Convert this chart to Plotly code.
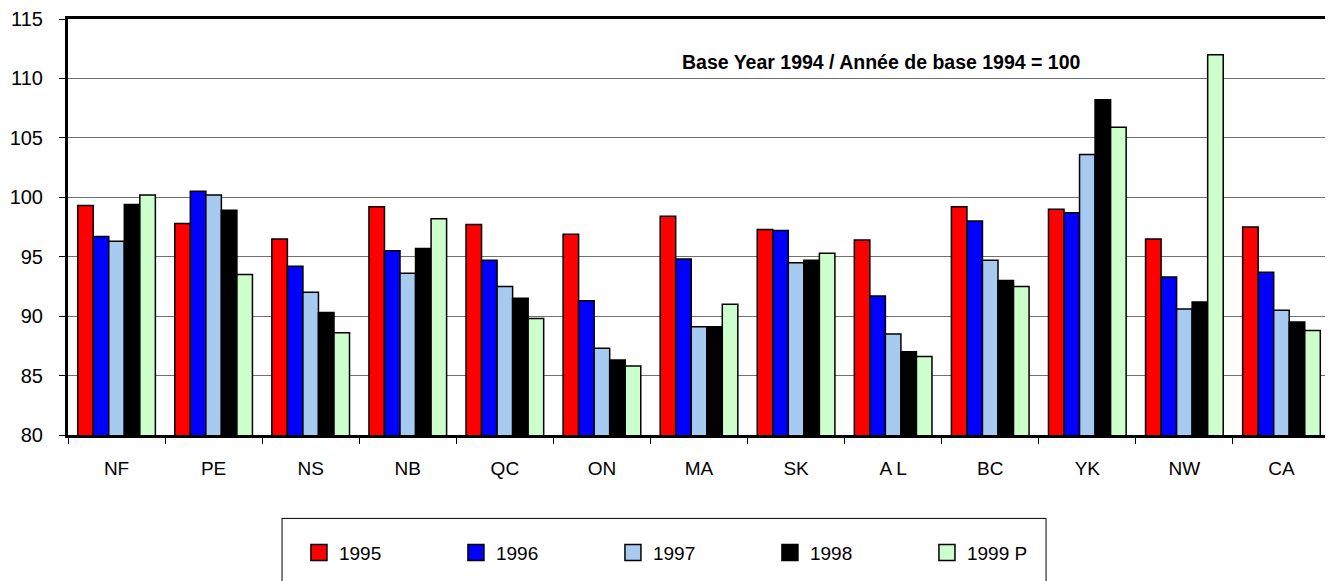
import plotly.graph_objects as go

regions = ['NF', 'PE', 'NS', 'NB', 'QC', 'ON', 'MA', 'SK', 'A L', 'BC', 'YK', 'NW', 'CA']

y1995 = [99.3, 97.8, 96.5, 99.2, 97.7, 96.9, 98.4, 97.3, 96.4, 99.2, 99.0, 96.5, 97.5]
y1996 = [96.7, 100.5, 94.2, 95.5, 94.7, 91.3, 94.8, 97.2, 91.7, 98.0, 98.7, 93.3, 93.7]
y1997 = [96.3, 100.2, 92.0, 93.6, 92.5, 87.3, 89.1, 94.5, 88.5, 94.7, 103.6, 90.6, 90.5]
y1998 = [99.4, 98.9, 90.3, 95.7, 91.5, 86.3, 89.1, 94.7, 87.0, 93.0, 108.2, 91.2, 89.5]
y1999 = [100.2, 93.5, 88.6, 98.2, 89.8, 85.8, 91.0, 95.3, 86.6, 92.5, 105.9, 112.0, 88.8]

series = [
    ('1995', y1995, '#FF0000'),
    ('1996', y1996, '#0000FF'),
    ('1997', y1997, '#A6CAF0'),
    ('1998', y1998, '#000000'),
    ('1999 P', y1999, '#CCFFCC'),
]

fig = go.Figure()
for name, vals, color in series:
    fig.add_trace(go.Bar(x=regions, y=vals, name=name, base=0, showlegend=False,
                         marker=dict(color=color, line=dict(color='black', width=1.5))))
# legend entries with bigger square swatches
for name, vals, color in series:
    fig.add_trace(go.Scatter(x=[None], y=[None], name=name, mode='markers',
                             marker=dict(symbol='square', size=16, color=color,
                                         line=dict(color='black', width=1.5))))

fig.update_layout(
    barmode='group',
    bargap=0.2,
    bargroupgap=0,
    width=1325, height=573,
    margin=dict(l=60, r=3, t=11, b=146),
    paper_bgcolor='white',
    plot_bgcolor='white',
    font=dict(family='Liberation Sans, Arial', size=19, color='black'),
    legend=dict(orientation='h', x=0.183, xanchor='left', y=-0.2826, yanchor='middle',
                entrywidth=112, font=dict(size=19), traceorder='normal',
                bgcolor='rgba(0,0,0,0)'),
    annotations=[dict(text='<b>Base Year 1994 / Année de base 1994 = 100</b>',
                      xref='paper', yref='paper', x=0.645, y=0.927,
                      showarrow=False, font=dict(size=19.5))],
    shapes=[dict(type='rect', xref='paper', yref='paper',
                 x0=0.1696, x1=0.775, y0=-0.37, y1=-0.2005,
                 line=dict(color='black', width=1))],
)

fig.update_yaxes(range=[80, 115], dtick=5, showgrid=True, gridcolor='#707070', gridwidth=1,
                 showline=True, linecolor='black', linewidth=3, mirror=True,
                 ticks='outside', ticklen=6, tickcolor='black', zeroline=False,
                 automargin=False, ticklabelstandoff=12, ticklabeloverflow='allow',
                 tickfont=dict(size=20))
fig.update_xaxes(showline=True, linecolor='black', linewidth=3, mirror=True,
                 ticks='outside', tickson='boundaries', ticklen=6, tickcolor='black',
                 automargin=False, ticklabelstandoff=14, ticklabeloverflow='allow')

fig.write_html("out.html")
